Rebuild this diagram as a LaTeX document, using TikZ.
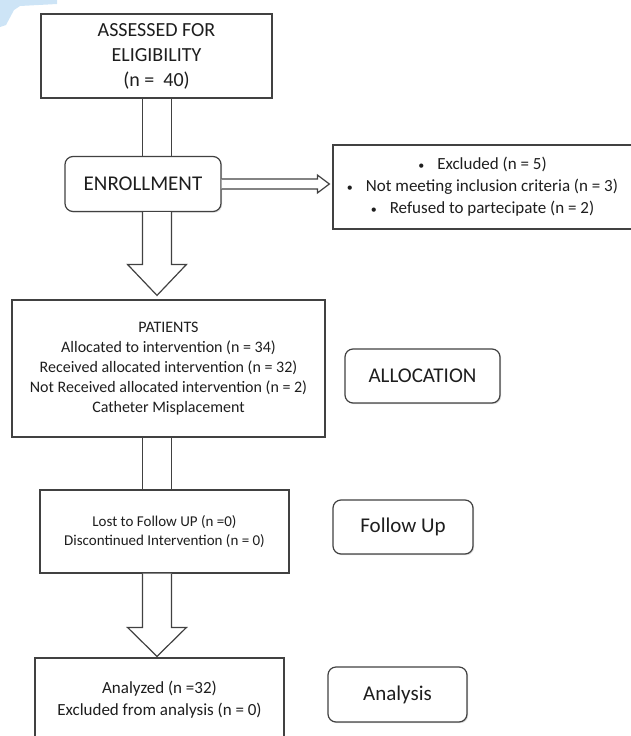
\documentclass[tikz,border=0pt]{standalone}
\usepackage{fontspec}
\setmainfont{Carlito}
\usetikzlibrary{calc,shadows}

\definecolor{boxline}{RGB}{65,65,65}
\definecolor{ink}{RGB}{30,30,30}
\definecolor{smudge}{RGB}{205,228,246}
\newcommand{\dotmark}{{\fontsize{12}{12}\selectfont\textbullet}\hspace{13pt}}

\tikzset{
  box/.style={draw=boxline, line width=1.2pt, fill=white, text=ink, align=center, inner sep=0pt,
    drop shadow={shadow xshift=1.2pt, shadow yshift=-1.2pt, opacity=0.25}},
  phase/.style={box, rounded corners=8pt, font=\fontsize{21}{25}\selectfont},
  blockarrow/.style={draw=boxline, line width=1.2pt, fill=white, line join=miter},
  stem/.style={draw=boxline, line width=1.2pt}
}

\begin{document}
\begin{tikzpicture}[x=1pt, y=-1pt]
  \path[use as bounding box, clip] (0,0) rectangle (631,736);
  \fill[smudge] (0,0) -- (57,0) -- (57,4) -- (20,6) -- (14,10) -- (6,25) -- (0,27) -- cycle; % scan mark

  % boxes of the flow
  \node[box, minimum width=231, minimum height=84, font=\fontsize{20}{25}\selectfont] (assess) at (156.5,56)
    {ASSESSED FOR\\ELIGIBILITY\\(n =\ \ 40)};
  \node[phase, minimum width=156, minimum height=55] (enroll) at (143,184) {ENROLLMENT};
  \node[box, minimum width=299, minimum height=84, font=\fontsize{17}{22}\selectfont] (excl) at (482.5,187)
    {\dotmark Excluded (n = 5)\\
     \dotmark Not meeting inclusion criteria (n = 3)\\
     \dotmark Refused to partecipate (n = 2)};
  \node[box, minimum width=313, minimum height=137, font=\fontsize{16}{20}\selectfont] (patients) at (168.5,368.5)
    {PATIENTS\\Allocated to intervention (n = 34)\\Received allocated intervention (n = 32)\\
     Not Received allocated intervention (n = 2)\\Catheter Misplacement};
  \node[box, minimum width=249, minimum height=83, font=\fontsize{15}{19}\selectfont] (follow) at (164.5,531.5)
    {Lost to Follow UP (n =0)\\Discontinued Intervention (n = 0)};
  \node[box, minimum width=249, minimum height=83, font=\fontsize{17}{22}\selectfont] (analyzed) at (159.5,699.5)
    {Analyzed (n =32)\\Excluded from analysis (n = 0)};

  % phase labels on the right
  \node[phase, minimum width=155, minimum height=54] (alloc) at (422.5,376) {ALLOCATION};
  \node[phase, minimum width=140, minimum height=54] (followup) at (403,527) {Follow Up};
  \node[phase, minimum width=139, minimum height=55] (analysis) at (397.5,694.5) {Analysis};

  % hollow arrows
  \coordinate (spine) at (157,0);
  \draw[stem] ([xshift=-14.5pt]spine |- assess.south) -- ([xshift=-14.5pt]spine |- enroll.north);
  \draw[stem] ([xshift=14.5pt]spine |- assess.south) -- ([xshift=14.5pt]spine |- enroll.north);
  \draw[blockarrow] ([xshift=-14.5pt]spine |- enroll.south) -- ([xshift=-14.5pt,yshift=35pt]spine |- patients.north)
    -- ([xshift=-29.5pt,yshift=35pt]spine |- patients.north) -- ([yshift=4pt]spine |- patients.north)
    -- ([xshift=29.5pt,yshift=35pt]spine |- patients.north) -- ([xshift=14.5pt,yshift=35pt]spine |- patients.north)
    -- ([xshift=14.5pt]spine |- enroll.south);
  \draw[blockarrow] ([yshift=5pt]enroll.east) -- ([xshift=-15pt,yshift=5pt]excl.west |- enroll.east)
    -- ([xshift=-15pt,yshift=9pt]excl.west |- enroll.east) -- ([xshift=-3pt]excl.west |- enroll.east)
    -- ([xshift=-15pt,yshift=-9pt]excl.west |- enroll.east) -- ([xshift=-15pt,yshift=-5pt]excl.west |- enroll.east)
    -- ([yshift=-5pt]enroll.east);
  \draw[stem] ([xshift=-14.5pt]spine |- patients.south) -- ([xshift=-14.5pt]spine |- follow.north);
  \draw[stem] ([xshift=14.5pt]spine |- patients.south) -- ([xshift=14.5pt]spine |- follow.north);
  \draw[blockarrow] ([xshift=-14.5pt]spine |- follow.south) -- ([xshift=-14.5pt,yshift=30pt]spine |- analyzed.north)
    -- ([xshift=-29.5pt,yshift=30pt]spine |- analyzed.north) -- ([yshift=1pt]spine |- analyzed.north)
    -- ([xshift=29.5pt,yshift=30pt]spine |- analyzed.north) -- ([xshift=14.5pt,yshift=30pt]spine |- analyzed.north)
    -- ([xshift=14.5pt]spine |- follow.south);
\end{tikzpicture}
\end{document}
